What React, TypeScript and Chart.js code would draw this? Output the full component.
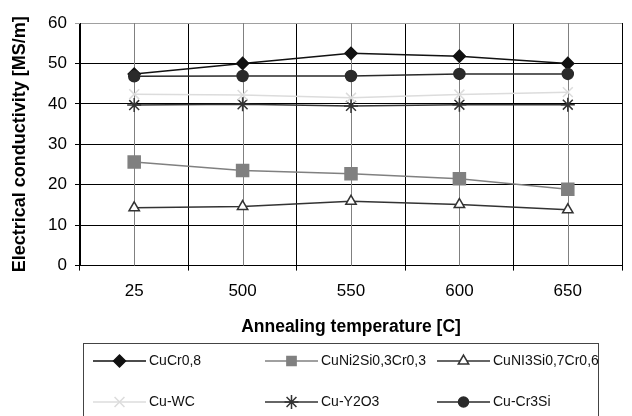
import React, { useEffect, useRef } from 'react';
import { Chart, registerables } from 'chart.js';
import { drawPoint } from 'chart.js/helpers';

Chart.register(...registerables);

const categories = ['25', '500', '550', '600', '650'];
const seriesNames = ['CuCr0,8', 'CuNi2Si0,3Cr0,3', 'CuNI3Si0,7Cr0,6', 'Cu-WC', 'Cu-Y2O3', 'Cu-Cr3Si'];
const cuCr08 = [47.4, 50.0, 52.5, 51.8, 50.0];
const cuNi2Si = [25.6, 23.5, 22.7, 21.5, 18.9];
const cuNi3Si = [14.3, 14.6, 15.9, 15.1, 13.8];
const cuWC = [42.4, 42.2, 41.5, 42.3, 42.9];
const cuY2O3 = [39.7, 39.9, 39.5, 39.8, 39.8];
const cuCr3Si = [46.8, 46.9, 46.9, 47.4, 47.4];
const yMin = 0;
const yMax = 60;
const yStep = 10;

const FONT = "'Liberation Sans', Arial, sans-serif";

const centerLines = {
  id: 'centerLines',
  beforeDatasetsDraw(chart: any) {
    const { ctx, chartArea, scales } = chart;
    const x = scales.x;
    ctx.save();
    ctx.strokeStyle = '#808080';
    ctx.lineWidth = 1;
    categories.forEach((_, i) => {
      const px = Math.round(x.getPixelForValue(i)) + 0.5;
      ctx.beginPath();
      ctx.moveTo(px, chartArea.top);
      ctx.lineTo(px, chartArea.bottom);
      ctx.stroke();
    });
    ctx.restore();
  },
};

const customLegend = {
  id: 'customLegend',
  afterDraw(chart: any) {
    const { ctx } = chart;
    ctx.save();
    ctx.strokeStyle = '#444';
    ctx.lineWidth = 1;
    ctx.strokeRect(83.5, 343.5, 515, 100);
    const colX = [93, 265, 437];
    const rowY = [361, 402];
    chart.data.datasets.forEach((ds: any, i: number) => {
      const x0 = colX[i % 3];
      const y = rowY[Math.floor(i / 3)];
      ctx.strokeStyle = ds.borderColor;
      ctx.lineWidth = ds.borderWidth;
      ctx.beginPath();
      ctx.moveTo(x0, y);
      ctx.lineTo(x0 + 53, y);
      ctx.stroke();
      ctx.fillStyle = ds.pointBackgroundColor;
      ctx.strokeStyle = ds.pointBorderColor;
      ctx.lineWidth = ds.pointBorderWidth;
      drawPoint(ctx, { pointStyle: ds.pointStyle, radius: ds.legendRadius, rotation: 0, borderWidth: ds.pointBorderWidth }, x0 + 26.5, y);
      ctx.fillStyle = '#111';
      ctx.font = `14px ${FONT}`;
      ctx.textBaseline = 'middle';
      ctx.textAlign = 'left';
      ctx.fillText(ds.label, x0 + 56, y + 0.5);
    });
    ctx.restore();
  },
};

function makeDs(label: string, data: number[], line: string, style: string, radius: number, fill: string, stroke: string, order: number, legendRadius: number) {
  return {
    label,
    data,
    borderColor: line,
    borderWidth: 1.5,
    pointStyle: style,
    pointRadius: radius,
    pointBackgroundColor: fill,
    pointBorderColor: stroke,
    pointBorderWidth: 1.5,
    fill: false,
    tension: 0,
    order,
    legendRadius,
  };
}

export default function App() {
  const ref = useRef<HTMLCanvasElement>(null);
  useEffect(() => {
    if (!ref.current) return;
    const chart = new Chart(ref.current, {
      type: 'line',
      data: {
        labels: categories,
        datasets: [
          makeDs(seriesNames[0], cuCr08, '#111111', 'rectRot', 6, '#111111', '#111111', 2, 6),
          makeDs(seriesNames[1], cuNi2Si, '#808080', 'rect', 8.5, '#808080', '#808080', 3, 6.5),
          makeDs(seriesNames[2], cuNi3Si, '#333333', 'triangle', 6, '#ffffff', '#333333', 4, 6),
          makeDs(seriesNames[3], cuWC, '#dcdcdc', 'crossRot', 7, '#dcdcdc', '#dcdcdc', 5, 7),
          makeDs(seriesNames[4], cuY2O3, '#333333', 'star', 7, '#333333', '#333333', 6, 7),
          makeDs(seriesNames[5], cuCr3Si, '#2a2a2a', 'circle', 5.5, '#2a2a2a', '#2a2a2a', 1, 5),
        ] as any,
      },
      options: {
        animation: false,
        responsive: false,
        layout: { padding: { top: 23, right: 0, bottom: 63, left: 0 } },
        plugins: {
          legend: { display: false },
          tooltip: { enabled: false },
        },
        scales: {
          x: {
            type: 'category',
            offset: true,
            grid: { offset: true, color: '#000', tickLength: 5, lineWidth: 1 },
            border: { color: '#000' },
            ticks: { font: { size: 17, family: FONT }, color: '#000', padding: 11 },
            title: {
              display: true,
              text: 'Annealing temperature [C]',
              font: { size: 17.5, weight: 'bold', family: FONT },
              color: '#000',
              padding: { top: 4, bottom: 15 },
            },
          },
          y: {
            min: yMin,
            max: yMax,
            ticks: { stepSize: yStep, font: { size: 17, family: FONT }, color: '#000', padding: 8 },
            grid: {
              color: (c: any) => (c.tick && c.tick.value === yMax ? '#a0a0a0' : '#000'),
              tickLength: 5,
              lineWidth: 1,
            },
            border: { color: '#000' },
            title: {
              display: true,
              text: 'Electrical conductivity [MS/m]',
              font: { size: 18, weight: 'bold', family: FONT },
              color: '#000',
              padding: { top: 9, bottom: 0 },
            },
            afterFit(s: any) {
              s.width = 80;
            },
          },
        },
      },
      plugins: [centerLines, customLegend],
    } as any);
    return () => chart.destroy();
  }, []);
  return (
    <div style={{ position: 'absolute', left: 0, top: 0, width: 632, height: 416 }}>
      <canvas ref={ref} width={632} height={416} style={{ display: 'block' }} />
    </div>
  );
}
